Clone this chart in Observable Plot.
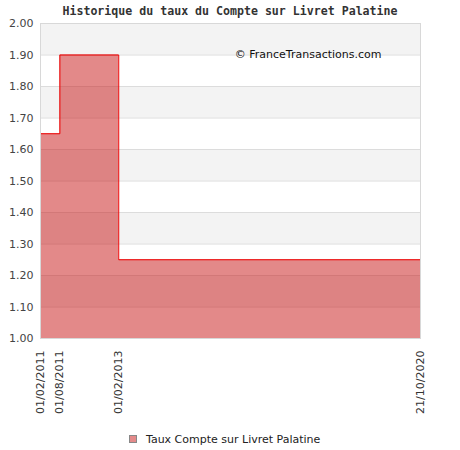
<!DOCTYPE html>
<html>
<head>
<meta charset="utf-8">
<script src="https://cdn.jsdelivr.net/npm/d3@7"></script>
<script src="https://cdn.jsdelivr.net/npm/@observablehq/plot@0.6"></script>
<style>
  body { margin: 0; background: #fff; width: 460px; }
  #title { height: 21px; line-height: 21px; text-align: center; font-family: "DejaVu Sans Mono", monospace; font-weight: bold; font-size: 11.6px; color: #333; padding-top: 1px; box-sizing: border-box; position: relative; z-index: 0; }
  #chart { position: relative; z-index: 1; }
  #legend { height: 32px; padding-top: 15px; box-sizing: border-box; font-family: "DejaVu Sans", sans-serif; font-size: 11px; color: #222; line-height: 14px; padding-left: 129px; }
  #legend .sw { display: inline-block; width: 6px; height: 6px; background: #e48a8a; border: 1px solid #888; vertical-align: middle; margin-right: 9px; position: relative; top: -1px; }
  svg { display: block; overflow: visible; }
</style>
</head>
<body>
<div id="title">Historique du taux du Compte sur Livret Palatine</div>
<div id="chart"></div>
<div id="legend"><span class="sw"></span>Taux Compte sur Livret Palatine</div>
<script>
const dates = ["2011-02-01", "2011-08-01", "2013-02-01", "2020-10-21"];
const rates = [1.65, 1.90, 1.25, 1.25];
const yTicks = [1.0, 1.1, 1.2, 1.3, 1.4, 1.5, 1.6, 1.7, 1.8, 1.9, 2.0];
const seriesName = "Taux Compte sur Livret Palatine";
const watermark = "© FranceTransactions.com";

const parse = d3.utcParse("%Y-%m-%d");
const data = dates.map((d, i) => ({date: parse(d), rate: rates[i]}));
const xTicks = dates.map(parse);
// alternating grey bands: [1.1,1.2], [1.3,1.4], ...
const bands = [];
for (let i = 1; i + 1 < yTicks.length; i += 2) bands.push({y1: yTicks[i], y2: yTicks[i + 1]});

const chart = Plot.plot({
  width: 460,
  height: 397,
  marginTop: 2,
  marginLeft: 40,
  marginRight: 40,
  marginBottom: 80,
  style: {fontFamily: "DejaVu Sans, sans-serif", fontSize: "11px", color: "#444", background: "transparent", overflow: "visible"},
  x: {type: "utc", domain: [xTicks[0], xTicks[xTicks.length - 1]], ticks: xTicks, tickFormat: d3.utcFormat("%d/%m/%Y"), tickRotate: -90, tickSize: 0, tickPadding: 12, label: null},
  y: {domain: [1.0, 2.0], ticks: yTicks, tickFormat: d3.format(".2f"), tickSize: 0, tickPadding: 7, label: null},
  marks: [
    Plot.rect(bands, {y1: "y1", y2: "y2", fill: "#f3f3f3"}),
    Plot.gridY(yTicks, {stroke: "#dcdcdc", strokeOpacity: 1}),
    Plot.areaY(data, {x: "date", y1: 1.0, y2: "rate", curve: "step-after", fill: "#c81414", fillOpacity: 0.5}),
    Plot.lineY(data, {x: "date", y: "rate", curve: "step-after", stroke: "#ee0000", strokeWidth: 1}),
    Plot.frame({stroke: "#d8d8d8"}),
    Plot.text([watermark], {text: d => d, frameAnchor: "top-right", dx: -39, dy: 27, textAnchor: "end", fill: "#111", fontSize: 11}),
    Plot.axisX({ticks: xTicks, tickFormat: d3.utcFormat("%d/%m/%Y"), tickRotate: -90, tickSize: 0, tickPadding: 12, fill: "#333"}),
    Plot.axisY({ticks: yTicks, tickFormat: d3.format(".2f"), tickSize: 0, tickPadding: 7, fill: "#444"})
  ]
});
document.getElementById("chart").appendChild(chart);
</script>
</body>
</html>
